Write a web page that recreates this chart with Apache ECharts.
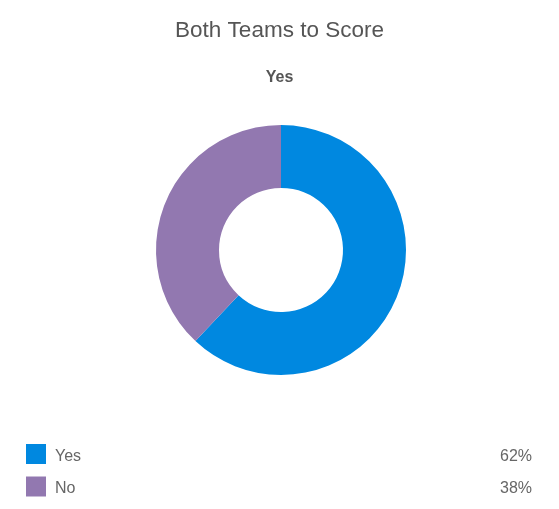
<!DOCTYPE html>
<html>
<head>
<meta charset="utf-8">
<script src="https://cdn.jsdelivr.net/npm/echarts@6/dist/echarts.min.js"></script>
<style>
  html, body { margin: 0; padding: 0; background: #fff; }
  #chart { width: 559px; height: 509px; }
</style>
</head>
<body>
<div id="chart"></div>
<script>
const categories = ['Yes', 'No'];
const percents = [62, 38];
const colors = ['#0088e0', '#9278b0'];

var chartDom = document.getElementById('chart');
var myChart = echarts.init(chartDom);

const data = categories.map((name, i) => ({
	value: percents[i],
	name: name,
	itemStyle: { color: colors[i] }
}));

var option = {
	animation: false,
	textStyle: { fontFamily: 'Liberation Sans, Arial, sans-serif' },
	title: {
		text: 'Both Teams to Score',
		subtext: categories[0],
		left: 'center',
		top: 14,
		itemGap: 28,
		textStyle: { fontSize: 22.5, fontWeight: 'normal', color: '#555' },
		subtextStyle: { fontSize: 16, fontWeight: 'bold', color: '#555' }
	},
	legend: {
		orient: 'vertical',
		left: 21,
		top: 439,
		itemWidth: 20,
		itemHeight: 20,
		itemGap: 12,
		icon: 'rect',
		selectedMode: false,
		data: categories,
		formatter: function (name) {
			const i = categories.indexOf(name);
			return '{n|' + name + '}{p|' + percents[i] + '%}';
		},
		textStyle: {
			color: '#666',
			fontSize: 16,
			rich: {
				n: { width: 435, padding: [5, 0, 0, 4], fontSize: 16, color: '#666' },
				p: { width: 42, padding: [5, 0, 0, 0], align: 'right', fontSize: 16, color: '#666' }
			}
		}
	},
	series: [
		{
			type: 'pie',
			center: [281, 250],
			radius: [62, 125],
			startAngle: 90,
			clockwise: true,
			label: { show: false },
			labelLine: { show: false },
			emphasis: { disabled: true },
			data: data
		}
	]
};

option && myChart.setOption(option);
</script>
</body>
</html>
